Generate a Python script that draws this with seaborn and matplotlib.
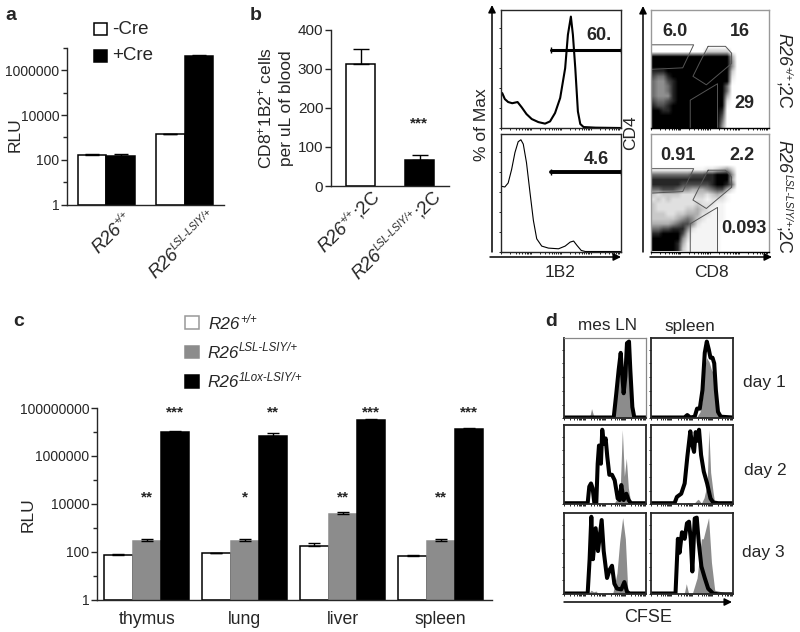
import numpy as np
import pandas as pd
import matplotlib
matplotlib.use('Agg')
import matplotlib.pyplot as plt
import seaborn as sns
from matplotlib.patches import FancyArrowPatch, Rectangle

# ---------------------------
# Panel a data
# ---------------------------
a_genotypes = ['R26 +/+', 'R26 LSL-LSIY/+']
a_minus_cre = [163, 1380]
a_minus_err = [174, 1420]
a_plus_cre = [152, 4200000]
a_plus_err = [180, 4700000]

# ---------------------------
# Panel b data
# ---------------------------
b_genotypes = ['R26 +/+;2C', 'R26 LSL-LSIY/+;2C']
b_cells = [312, 67]
b_cells_err = [350, 78]

# ---------------------------
# Panel c data
# ---------------------------
c_tissues = ['thymus', 'lung', 'liver', 'spleen']
c_wt = [72, 85, 172, 67]
c_wt_err = [79, 90, 229, 74]
c_lsl = [278, 269, 3640, 269]
c_lsl_err = [326, 348, 4420, 326]
c_lox = [10000000, 6500000, 30600000, 12900000]
c_lox_err = [11000000, 8800000, 34700000, 14100000]
c_lsl_stars = ['**', '*', '**', '**']
c_lox_stars = ['***', '**', '***', '***']

# ---------------------------
# Panel b histograms (1B2)
# ---------------------------
hist_top_x = [0.6, 2.8, 5.6, 9, 13.5, 17, 21, 25.4, 31, 36.6, 40.8, 45, 49.3, 53.5, 55.8, 58.3, 60, 62, 64.2, 66.2, 69, 79, 100]
hist_top_y = [29.6, 24.5, 22, 21, 22, 17.5, 11.8, 7.6, 5, 3.7, 5.6, 12.7, 25.4, 50.7, 79, 94.4, 79, 50.7, 14, 3.4, 0.8, 0.3, 0]
hist_bot_x = [0, 2.8, 5.6, 8.5, 11.3, 14, 16.3, 18.3, 21, 24, 26.8, 29.6, 33.8, 39.4, 47.9, 53.5, 57.7, 60.6, 63.4, 67, 70.4, 100]
hist_bot_y = [55.5, 54.9, 58.3, 69.8, 84.2, 93.4, 95.1, 91.4, 75.6, 49.7, 26.4, 10.8, 4.6, 2.9, 2.3, 4.6, 8, 8.9, 5.2, 0.9, 0, 0]

# ---------------------------
# Panel b dot plot densities (0-9)
# ---------------------------
dots_top = [
    '000000000000000000000000', '000000000000000000000000', '000000000000000000000000',
    '000000000000000000000000', '000000000000000000000000', '000000000000000000000000',
    '000000000000000000000000', '000000000000000000000000', '000000000003333300000000',
    '999999999999999940000000', '999999999999999950000000', '999999999999999950000000',
    '888999999999999930000000', '766899999999999920000000', '655789999999999910000000',
    '655689999999999600000000', '655689999999999600000000', '655589999999999400000000',
    '766789999999999200000000', '877899999999999100000000', '998899999999998000000000',
    '999999999999997000000000', '999999999999996000000000', '999999999999995000000000',
]
dots_bot = [
    '000000000000000000000000', '000000000000000000000000', '000000000000000000000000',
    '000000000000000000000000', '000000000000000000000000', '000000000000000000000000',
    '000000000000000000000000', '111111111112234530000000', '666666667778899950000000',
    '888888888888899940000000', '888888777777899860000000', '667776554445677420000000',
    '323333222332343100000000', '232322222221222100000000', '322222222322211000000000',
    '322222233432111000000000', '333223344422111000000000', '333334565321111000000000',
    '444456775211110000000000', '667788852111110000000000', '889999731111110000000000',
    '999999521111110000000000', '999998411111110000000000', '999998311111110000000000',
]
gate_cd4_x = [0, 36.3, 27, 0]
gate_cd4_y = [70.5, 70.5, 51, 49.7]
gate_dp_x = [48.6, 63.4, 68.6, 68.6, 47.1, 35.7, 41.4, 48.6]
gate_dp_y = [69.2, 69.2, 63.4, 54.7, 36.6, 43.8, 55.3, 69.2]
gate_cd8_x = [33.4, 33.4, 56.6, 56.6]
gate_cd8_y = [0, 23.6, 37.5, 0]

# ---------------------------
# Panel d CFSE traces: (line x, line y, filled x, filled y)
# ---------------------------
d1_mes = ([0, 60.7, 63.9, 66.8, 69.3, 71.3, 72.9, 75, 77, 79.5, 81.1, 83.6, 86, 100],
          [1, 1, 31, 60, 81, 52, 31, 52, 93, 95, 60, 14, 1, 1],
          [0, 30, 32, 33.5, 35.5, 37.5, 60.7, 63.9, 67, 70, 72.5, 75, 78, 81, 84, 86, 100],
          [0, 0, 5, 12, 5, 0, 0, 25, 50, 58, 30, 50, 85, 50, 10, 0, 0])
d1_spl = ([0, 41, 44.4, 48, 53.5, 56.4, 59.7, 63, 65.8, 68.3, 70.8, 72.8, 75.3, 77.4, 79.4, 82, 85.4, 100],
          [1, 1, 4, 1, 2, 12, 12, 35, 81, 95, 85, 75, 75, 68, 35, 8, 2, 1],
          [0, 55, 60, 63, 66, 68, 71, 74, 77, 79.4, 82, 85, 100],
          [0, 0, 8, 25, 65, 75, 70, 60, 55, 30, 5, 0, 0])
d2_mes = ([0, 28.7, 30.7, 32.8, 34.8, 36.9, 39.3, 41, 42.6, 45, 46.6, 48.7, 50.8, 52.8, 55.3, 58.6, 61.9, 65.6, 68, 70, 72.9, 76.2, 79, 81.97, 100],
          [1, 1, 22, 26, 20, 1, 1, 51, 74, 51, 94, 76, 83, 60, 37, 37, 30, 7, 5, 24, 5, 13, 5, 1, 1],
          [0, 60.7, 65.6, 68.9, 71.3, 73.8, 76.2, 78.7, 82, 100],
          [0, 0, 8, 25, 94, 35, 58, 20, 0, 0])
d2_spl = ([0, 28.8, 31.7, 37, 41.2, 44.5, 48.1, 50.2, 52.7, 54.7, 57.2, 58.8, 61.3, 64.6, 68.7, 72.8, 76.1, 82.3, 100],
          [1, 1, 9, 13, 26, 60, 92, 76, 66, 91, 80, 94, 62, 41, 26, 7, 2, 1, 1],
          [0, 43, 45.3, 47.5, 52, 56.4, 58, 61.7, 65, 68.7, 70.8, 73, 76, 78.2, 100],
          [0, 0, 2, 0, 0, 5, 6, 1, 8, 25, 94, 40, 15, 0, 0])
d3_mes = ([0, 28.7, 31.1, 33.2, 35.2, 38.5, 41.4, 45.9, 48.4, 52.5, 55.7, 58.6, 61.5, 64.7, 70, 73.8, 77, 80.3, 100],
          [1, 1, 43, 95, 43, 81, 53, 91, 53, 20, 30, 35, 13, 7, 6, 15, 3, 1, 1],
          [0, 29, 33, 36, 39, 42, 58, 60, 64.7, 68, 71.7, 75, 77.9, 80, 100],
          [0, 0, 5, 3, 4, 0, 0, 3, 26, 64, 94, 68, 7, 0, 0])
d3_spl = ([0, 30, 32.9, 35, 37.9, 41.2, 44, 46.5, 48.6, 50.6, 53.5, 56, 58.4, 61.7, 65.8, 70, 76, 82.3, 100],
          [1, 1, 68, 51, 76, 68, 87, 89, 68, 28, 93, 94, 64, 34, 20, 7, 1, 0, 0],
          [0, 38, 41, 43.2, 46, 50.6, 56.4, 61.7, 64, 70.5, 74, 78, 100],
          [0, 0, 2, 13, 1, 1, 20, 68, 68, 94, 39, 5, 0])

sns.set_theme(style='ticks')
plt.rcParams['font.family'] = ['Liberation Sans', 'DejaVu Sans']
plt.rcParams['mathtext.fontset'] = 'custom'
plt.rcParams['mathtext.rm'] = 'Liberation Sans'
plt.rcParams['mathtext.it'] = 'Liberation Sans:italic'
plt.rcParams['mathtext.bf'] = 'Liberation Sans:bold'
plt.rcParams['axes.linewidth'] = 1.0

W, H = 800, 632
GRAY = '#8c8c8c'
fig = plt.figure(figsize=(W / 100, H / 100), dpi=100)
renderer = fig.canvas.get_renderer()


# ---------------------------
# Helpers, all working in reference pixels
# ---------------------------
def axes_px(left, top, right, bottom):
    return fig.add_axes([left / W, 1 - bottom / H, (right - left) / W, (bottom - top) / H])


def text_px(x, y, s, size=12.5, ha='center', va='center', **kw):
    return fig.text(x / W, 1 - y / H, s, fontsize=size, ha=ha, va=va, **kw)


def arrow_px(x0, y0, x1, y1):
    fig.add_artist(FancyArrowPatch((x0 / W, 1 - y0 / H), (x1 / W, 1 - y1 / H), transform=fig.transFigure,
                                   arrowstyle='-|>', mutation_scale=11, lw=1.1, color='black',
                                   shrinkA=0, shrinkB=0))


def square_px(left, top, right, bottom, face, edge):
    fig.add_artist(Rectangle((left / W, 1 - bottom / H), (right - left) / W, (bottom - top) / H,
                             transform=fig.transFigure, facecolor=face, edgecolor=edge, lw=1.1))


def geno(x, y, sup, tail='', size=13.5, sup_size=7.5, rotation=0):
    # genotype name written piece by piece along the baseline, x,y is where the R starts
    r = np.radians(rotation)
    ux, uy = np.cos(r), -np.sin(r)
    upx, upy = -np.sin(r), -np.cos(r)
    raised = size * 0.5
    parts = [('R26', size, 'italic', 0), (sup, sup_size, 'italic', raised), (tail, size, 'normal', 0)]
    pos = 0
    for s, sz, style, lift in parts:
        if not s:
            continue
        t = fig.text((x + ux * pos + upx * lift) / W, 1 - (y + uy * pos + upy * lift) / H, s, fontsize=sz,
                     fontstyle=style, ha='left', va='baseline', rotation_mode='anchor')
        pos += t.get_window_extent(renderer).width + 0.5
        t.set_rotation(rotation)


def style_bars(ax, major, labels, minor, size):
    sns.despine(ax=ax)
    ax.set_xlabel('')
    ax.set_ylabel('')
    ax.set_yticks(major)
    ax.set_yticklabels(labels)
    ax.set_yticks(minor, minor=True)
    ax.set_yticklabels([''] * len(minor), minor=True)
    ax.tick_params(axis='y', which='major', length=4, width=1, labelsize=size, pad=1.5)
    ax.tick_params(axis='y', which='minor', length=3, width=1)
    ax.tick_params(axis='x', which='both', length=0)
    ax.patch.set_alpha(0)


def fix_log_bars(ax):
    # seaborn leaves the bars starting at 0, which a log axis can't draw
    for cont in ax.containers:
        for p in cont:
            top = p.get_y() + p.get_height()
            p.set_y(1)
            p.set_height(top - 1)


def add_errs(ax, tops, cap=4):
    # bars come grouped by hue in the containers, tops in the same order
    for cont, top in zip(ax.containers, tops):
        xs = [p.get_x() + p.get_width() / 2 for p in cont]
        vals = [p.get_height() + p.get_y() for p in cont]
        up = [t - v for t, v in zip(top, vals)]
        ax.errorbar(xs, vals, yerr=[[0] * len(xs), up], fmt='none', ecolor='black',
                    elinewidth=1, capsize=cap, capthick=1)


def flow_ticks(ax, left=True):
    decades = [d + np.log10(k) for d in range(4) for k in range(1, 10)]
    ax.set_xticks([d * 25 for d in decades])
    ax.set_yticks(np.arange(0, 101, 17) if left else [])
    ax.tick_params(axis='both', length=1.6, width=0.6, labelbottom=False, labelleft=False,
                   color='black', pad=0)
    ax.set_xlim(0, 100)
    ax.set_ylim(0, 100)


# ---------------------------
# Panel a
# ---------------------------
df_a = pd.DataFrame({
    'genotype': a_genotypes * 2,
    'rlu': a_minus_cre + a_plus_cre,
    'cre': ['-Cre'] * 2 + ['+Cre'] * 2,
})
ax = axes_px(67, 48, 224, 204.5)
sns.barplot(data=df_a, x='genotype', y='rlu', hue='cre', palette=['white', 'black'], edgecolor='black',
            linewidth=1.1, width=0.73, gap=0, errorbar=None, legend=False, log_scale=True, ax=ax)
fix_log_bars(ax)
ax.set_xlim(-0.5, 1.5)
ax.set_ylim(1, 1e7)
style_bars(ax, [1, 100, 10000, 1000000], ['1', '100', '10000', '1000000'], [10, 1000, 100000, 10000000], 10)
ax.set_xticks([0, 1])
ax.set_xticklabels(['', ''])
add_errs(ax, [a_minus_err, a_plus_err], cap=5)
text_px(15, 135, 'RLU', size=12.5, rotation=90)
square_px(93.5, 23, 107, 35, 'white', 'black')
square_px(93.5, 49.5, 107, 61.5, 'black', 'black')
text_px(112, 29, '-Cre', size=13.5, ha='left')
text_px(112, 56, '+Cre', size=13.5, ha='left')
geno(98, 254, '+/+', rotation=45)
geno(155, 279, 'LSL-LSIY/+', rotation=45)

# ---------------------------
# Panel b bars
# ---------------------------
ax = axes_px(331, 29.5, 449, 186)
sns.barplot(x=b_genotypes, y=b_cells, hue=b_genotypes, palette=['white', 'black'], edgecolor='black',
            linewidth=1.1, width=0.5, errorbar=None, legend=False, ax=ax)
ax.set_xlim(-0.5, 1.5)
ax.set_ylim(0, 400)
style_bars(ax, [0, 100, 200, 300, 400], ['0', '100', '200', '300', '400'], [], 11)
ax.set_xticks([0, 1])
ax.set_xticklabels(['', ''])
for cont, top in zip(ax.containers, [[b_cells_err[0]], [b_cells_err[1]]]):
    for p, t in zip(cont, top):
        v = p.get_height()
        ax.errorbar([p.get_x() + p.get_width() / 2], [v], yerr=[[0], [t - v]], fmt='none', ecolor='black',
                    elinewidth=1, capsize=6, capthick=1)
text_px(419, 123, '***', size=11, fontweight='bold')
text_px(265, 108, r'CD8$^{+}$1B2$^{+}$ cells', size=12.5, rotation=90)
text_px(287, 108, 'per uL of blood', size=12.5, rotation=90)
geno(324, 253, '+/+', ';2C', rotation=45)
geno(358, 280, 'LSL-LSIY/+', ';2C', rotation=45)

# ---------------------------
# Panel b histograms
# ---------------------------
ax = axes_px(501.5, 10, 620.5, 128)
sns.lineplot(x=hist_top_x, y=hist_top_y, color='black', lw=1.5, sort=False, estimator=None, ax=ax)
ax.plot([41.7, 100], [66, 66], color='black', lw=2.2, marker='|', ms=5)
flow_ticks(ax)
ax = axes_px(501.5, 134, 620.5, 251.5)
sns.lineplot(x=hist_bot_x, y=hist_bot_y, color='black', lw=0.8, sort=False, estimator=None, ax=ax)
ax.plot([41.7, 100], [67.5, 67.5], color='black', lw=2.8, marker='|', ms=4)
flow_ticks(ax)
text_px(599, 36, '60.', size=13, fontweight='bold')
text_px(596, 159, '4.6', size=13, fontweight='bold')
arrow_px(492, 252, 492, 5)
arrow_px(490, 257, 621, 257)
text_px(482, 125, '% of Max', size=12.5, rotation=90)
text_px(560, 272, '1B2', size=12.5)

# ---------------------------
# Panel b dot plots
# ---------------------------
for rows, box in zip([dots_top, dots_bot], [(651, 10, 768.5, 128), (651, 134, 768.5, 251.5)]):
    ax = axes_px(*box)
    density = (np.array([[int(c) for c in row] for row in rows]) / 9) ** 1.4
    ax.imshow(density, cmap='gray_r', vmin=0, vmax=1, extent=(0, 100, 0, 100), aspect='auto',
              interpolation='bilinear')
    for gx, gy in [(gate_cd4_x, gate_cd4_y), (gate_dp_x, gate_dp_y), (gate_cd8_x, gate_cd8_y)]:
        ax.plot(gx, gy, color='#555555', lw=0.7)
    flow_ticks(ax, left=False)
    for s in ax.spines.values():
        s.set_color('#999999')
    ax.spines['bottom'].set_color('black')
text_px(675, 32, '6.0', size=13, fontweight='bold')
text_px(740, 32, '16', size=13, fontweight='bold')
text_px(744, 103, '29', size=13, fontweight='bold')
text_px(678, 156, '0.91', size=13, fontweight='bold')
text_px(742, 156, '2.2', size=13, fontweight='bold')
text_px(744, 229, '0.093', size=13, fontweight='bold')
arrow_px(643, 252, 643, 6)
arrow_px(650, 257, 772, 257)
text_px(631, 133, 'CD4', size=12.5, rotation=90)
text_px(711, 272, 'CD8', size=12.5)
geno(778, 33, '+/+', ';2C', size=13, rotation=-90)
geno(778, 140, 'LSL-LSIY/+', ';2C', size=13, rotation=-90)

# ---------------------------
# Panel c
# ---------------------------
df_c = pd.DataFrame({
    'tissue': c_tissues * 3,
    'rlu': c_wt + c_lsl + c_lox,
    'group': ['wt'] * 4 + ['lsl'] * 4 + ['lox'] * 4,
})
ax = axes_px(97, 408, 491.7, 599.5)
sns.barplot(data=df_c, x='tissue', y='rlu', hue='group', palette=['white', GRAY, 'black'], edgecolor='black',
            linewidth=1.1, width=0.864, gap=0, errorbar=None, legend=False, log_scale=True, ax=ax)
fix_log_bars(ax)
for p in ax.containers[1]:
    p.set_edgecolor(GRAY)
ax.set_xlim(-0.507, 3.52)
ax.set_ylim(1, 1e8)
style_bars(ax, [1, 100, 10000, 1000000, 100000000], ['1', '100', '10000', '1000000', '100000000'],
           [10, 1000, 100000, 10000000], 10)
ax.tick_params(axis='x', labelsize=12.7, pad=8)
add_errs(ax, [c_wt_err, c_lsl_err, c_lox_err], cap=4)
# stars sit above the bars, one row per comparison
for p, s in zip(ax.containers[2], c_lox_stars):
    text_px(fig.transFigure.inverted().transform(ax.transData.transform((p.get_x() + p.get_width() / 2, 1)))[0] * W,
            412, s, size=11, fontweight='bold')
for p, s in zip(ax.containers[1], c_lsl_stars):
    text_px(fig.transFigure.inverted().transform(ax.transData.transform((p.get_x() + p.get_width() / 2, 1)))[0] * W,
            497, s, size=11, fontweight='bold')
text_px(28, 515, 'RLU', size=12.5, rotation=90)
square_px(185, 316, 199, 329, 'white', '#999999')
square_px(185, 346, 199, 358, GRAY, GRAY)
square_px(185, 375, 199, 388, 'black', 'black')
geno(208, 329, '+/+', size=12.3, sup_size=8.3)
geno(207, 357.5, 'LSL-LSIY/+', size=12.3, sup_size=8.3)
geno(207, 387, '1Lox-LSIY/+', size=12.3, sup_size=8.3)

# ---------------------------
# Panel d
# ---------------------------
d_rows = [(337.5, 418.3), (425, 504), (512.7, 594.3)]
d_cols = [(564.3, 645.7), (651, 732.7)]
d_traces = [[d1_mes, d1_spl], [d2_mes, d2_spl], [d3_mes, d3_spl]]
d_axes = []
for (top, bottom), traces in zip(d_rows, d_traces):
    for (left, right), (lx, ly, fx, fy) in zip(d_cols, traces):
        ax = axes_px(left, top, right, bottom)
        ax.fill_between(fx, 0, fy, color=GRAY, lw=0)
        sns.lineplot(x=lx, y=ly, color='black', lw=2.9, sort=False, estimator=None, ax=ax)
        flow_ticks(ax)
        for s in ax.spines.values():
            s.set_linewidth(1.3)
        d_axes.append(ax)
for side in ['top', 'right']:
    d_axes[0].spines[side].set_color('#888888')
    d_axes[0].spines[side].set_linewidth(0.9)
text_px(607, 326, 'mes LN', size=12.3)
text_px(690, 326, 'spleen', size=12.3)
text_px(764, 382, 'day 1', size=12.5)
text_px(765, 470, 'day 2', size=12.5)
text_px(763, 553, 'day 3', size=12.5)
arrow_px(564, 602, 732, 602)
text_px(648, 617, 'CFSE', size=13)

# ---------------------------
# Panel letters
# ---------------------------
text_px(11, 15, 'a', size=14, fontweight='bold')
text_px(256, 15, 'b', size=14, fontweight='bold')
text_px(19, 321, 'c', size=14, fontweight='bold')
text_px(551, 321, 'd', size=14, fontweight='bold')

fig.savefig('out.png', dpi=100)
